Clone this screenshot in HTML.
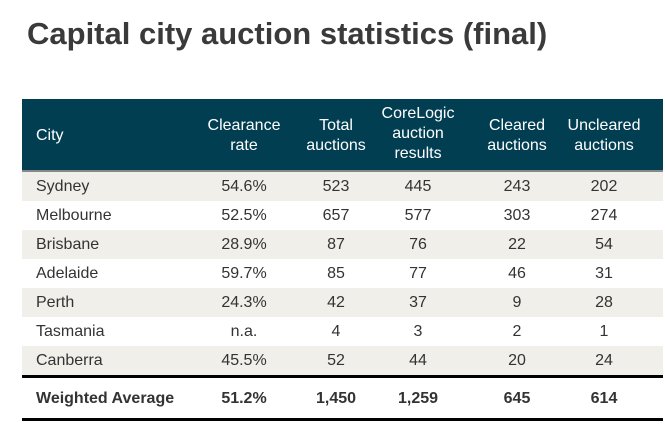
<!DOCTYPE html>
<html><head><meta charset="utf-8"><style>
body{margin:0;width:665px;height:439px;background:#fff;font-family:"Liberation Sans",Arial,sans-serif;position:relative;overflow:hidden;color:#333}
.t{position:absolute;left:27px;top:16px;font-size:31px;font-weight:bold;color:#3a3a3a}
.hdr{position:absolute;left:22px;top:99px;width:641px;height:71px;background:#023e52;border-bottom:2px solid #888}
.row{position:absolute;left:22px;width:641px;height:29px}
.c{position:absolute;transform:translateX(-50%);text-align:center;white-space:nowrap;font-size:16px}
.city{position:absolute;left:14px;font-size:16px}
.h .c,.h .city{color:#fff;line-height:20px}
.line{position:absolute;left:22px;width:641px;height:3px;background:#000}
</style></head><body>
<div class="t">Capital city auction statistics (final)</div>
<div class="hdr h">
<div class="city" style="top:27px">City</div>
<div class="c" style="left:222px;top:17px">Clearance<br>rate</div>
<div class="c" style="left:314px;top:17px">Total<br>auctions</div>
<div class="c" style="left:396px;top:5px">CoreLogic<br>auction<br>results</div>
<div class="c" style="left:495px;top:17px">Cleared<br>auctions</div>
<div class="c" style="left:582px;top:17px">Uncleared<br>auctions</div>
</div>
<div id="rows"></div>
<div class="line" style="top:375px"></div>
<div class="row" style="top:384px;font-weight:bold">
<div class="city" style="top:6px;font-weight:bold">Weighted Average</div>
<div class="c" style="left:222px;top:6px;font-weight:bold">51.2%</div>
<div class="c" style="left:314px;top:6px;font-weight:bold">1,450</div>
<div class="c" style="left:396px;top:6px;font-weight:bold">1,259</div>
<div class="c" style="left:495px;top:6px;font-weight:bold">645</div>
<div class="c" style="left:582px;top:6px;font-weight:bold">614</div>
</div>
<div class="line" style="top:418px"></div>
<script>
const cities=["Sydney","Melbourne","Brisbane","Adelaide","Perth","Tasmania","Canberra"];
const rates=["54.6%","52.5%","28.9%","59.7%","24.3%","n.a.","45.5%"];
const totals=[523,657,87,85,42,4,52];
const results=[445,577,76,77,37,3,44];
const cleared=[243,303,22,46,9,2,20];
const uncleared=[202,274,54,31,28,1,24];
const xs=[222,314,396,495,582];
const host=document.getElementById('rows');
cities.forEach((c,i)=>{
  const r=document.createElement('div');
  r.className='row';
  r.style.top=(172+i*29)+'px';
  if(i%2===0) r.style.background='#f0efea';
  
  
  const n=document.createElement('div');n.className='city';n.style.top='6px';n.textContent=c;
  
  
  r.appendChild(n);
  [rates[i],totals[i],results[i],cleared[i],uncleared[i]].forEach((v,j)=>{
    const d=document.createElement('div');d.className='c';d.style.left=xs[j]+'px';d.style.top='6px';d.textContent=v;
    
    
    r.appendChild(d);
  });
  host.appendChild(r);
});
</script>
</body></html>
